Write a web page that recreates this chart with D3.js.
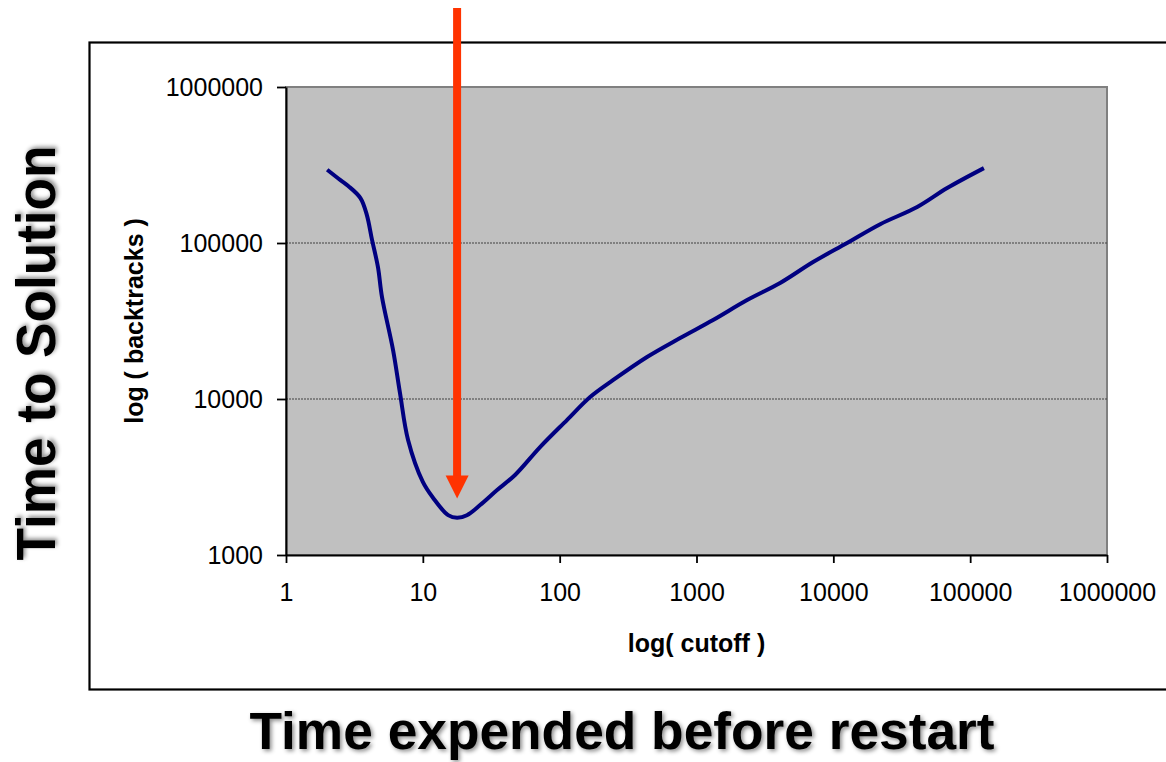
<!DOCTYPE html>
<html>
<head>
<meta charset="utf-8">
<script src="https://cdn.jsdelivr.net/npm/d3@7/dist/d3.min.js"></script>
<style>
  html, body { margin: 0; padding: 0; background: #fff; }
  svg { display: block; }
  text { font-family: "Liberation Sans", Arial, Helvetica, sans-serif; }
</style>
</head>
<body>
<svg id="chart" width="1166" height="762"></svg>
<script>
// ---- data ----
const cutoff = [2, 2.5, 2.85, 3.5, 3.9, 4.25, 4.7, 5.03, 6.06, 6.81, 7.8, 10, 11.9, 15.3, 17.8, 21, 26.2, 34.9, 47.2, 71.9, 113, 167, 245, 435, 759, 1322, 2344, 4083, 7115, 12600, 22000, 41000, 67900, 126000];
const backtracks = [295000, 253000, 232000, 194000, 151000, 105000, 70000, 45000, 20600, 10900, 5460, 2940, 2320, 1800, 1730, 1800, 2090, 2610, 3260, 4920, 7330, 10300, 13200, 18600, 24600, 32100, 43100, 55400, 75500, 100000, 132000, 170000, 225000, 302000];
const xTicks = [1, 10, 100, 1000, 10000, 100000, 1000000];
const xTickLabels = ["1", "10", "100", "1000", "10000", "100000", "1000000"];
const yTicks = [1000, 10000, 100000, 1000000];
const yTickLabels = ["1000", "10000", "100000", "1000000"];
const gridValues = [10000, 100000];
const arrowAt = { cutoff: 17.8, backtracks: 2300 };

// ---- layout ----
const svg = d3.select("#chart");
const L = 286, R = 1107, T = 87, B = 555;
const x = d3.scaleLog().domain([1, 1000000]).range([L, R]);
const y = d3.scaleLog().domain([1000, 1000000]).range([B, T]);

const defs = svg.append("defs");
const f = defs.append("filter").attr("id", "shadow").attr("x", "-10%").attr("y", "-30%").attr("width", "130%").attr("height", "160%");
f.append("feDropShadow").attr("dx", 2).attr("dy", 2).attr("stdDeviation", 2)
  .attr("flood-color", "#000").attr("flood-opacity", 0.45);

// outer frame
svg.append("rect").attr("x", 89.5).attr("y", 42.5).attr("width", 1100).attr("height", 647)
  .attr("fill", "none").attr("stroke", "#000").attr("stroke-width", 2.2);

// plot area
svg.append("rect").attr("x", L).attr("y", T).attr("width", R - L).attr("height", B - T)
  .attr("fill", "#c0c0c0").attr("stroke", "#808080").attr("stroke-width", 2);

// gridlines
svg.append("g").selectAll("line").data(gridValues).join("line")
  .attr("x1", L).attr("x2", R).attr("y1", d => y(d)).attr("y2", d => y(d))
  .attr("stroke", "#404040").attr("stroke-width", 1).attr("stroke-dasharray", "2,1");

// axes
const xAxis = d3.axisBottom(x).tickValues(xTicks).tickFormat((d, i) => xTickLabels[i])
  .tickSizeInner(8).tickSizeOuter(0).tickPadding(20);
const gx = svg.append("g").attr("transform", `translate(0,${B})`).call(xAxis);
const yAxis = d3.axisLeft(y).tickValues(yTicks).tickFormat((d, i) => yTickLabels[i])
  .tickSizeInner(9).tickSizeOuter(0).tickPadding(14);
const gy = svg.append("g").attr("transform", `translate(${L},0)`).call(yAxis);
[gx, gy].forEach(g => {
  g.select(".domain").attr("stroke", "#000").attr("stroke-width", 2);
  g.selectAll(".tick line").attr("stroke", "#000").attr("stroke-width", 1.8);
  g.selectAll(".tick text").attr("fill", "#000").style("font-size", "25px")
    .style("font-family", '"Liberation Sans", Arial, sans-serif');
});

// curve
const line = d3.line().x(d => x(d[0])).y(d => y(d[1])).curve(d3.curveCatmullRom.alpha(0.5));
svg.append("path").datum(cutoff.map((c, i) => [c, backtracks[i]]))
  .attr("d", line).attr("fill", "none").attr("stroke", "#000080").attr("stroke-width", 4)
  .attr("stroke-linejoin", "round");

// arrow
const ax = x(arrowAt.cutoff), tipY = y(arrowAt.backtracks);
const headH = 23, headW = 23;
svg.append("rect").attr("x", ax - 4).attr("y", 8).attr("width", 8).attr("height", tipY - headH - 8 + 1)
  .attr("fill", "#ff3300");
svg.append("path")
  .attr("d", `M${ax - headW / 2},${tipY - headH} L${ax + headW / 2},${tipY - headH} L${ax},${tipY} Z`)
  .attr("fill", "#ff3300");

// axis titles
svg.append("text").attr("x", (L + R) / 2 + 0).attr("y", 652).attr("text-anchor", "middle")
  .style("font-size", "25px").style("font-weight", "bold").text("log( cutoff )");
svg.append("text").attr("transform", `translate(143,${(T + B) / 2}) rotate(-90)`).attr("text-anchor", "middle")
  .style("font-size", "25px").style("font-weight", "bold").text("log ( backtracks )");

// big titles
svg.append("text").attr("x", 622).attr("y", 749).attr("text-anchor", "middle")
  .attr("textLength", 745).attr("lengthAdjust", "spacingAndGlyphs")
  .attr("filter", "url(#shadow)")
  .style("font-size", "51px").style("font-weight", "bold").text("Time expended before restart");
svg.append("text").attr("transform", "translate(55,353) rotate(-90)").attr("text-anchor", "middle")
  .attr("textLength", 415).attr("lengthAdjust", "spacingAndGlyphs")
  .attr("filter", "url(#shadow)")
  .style("font-size", "55px").style("font-weight", "bold").text("Time to Solution");
</script>
</body>
</html>
